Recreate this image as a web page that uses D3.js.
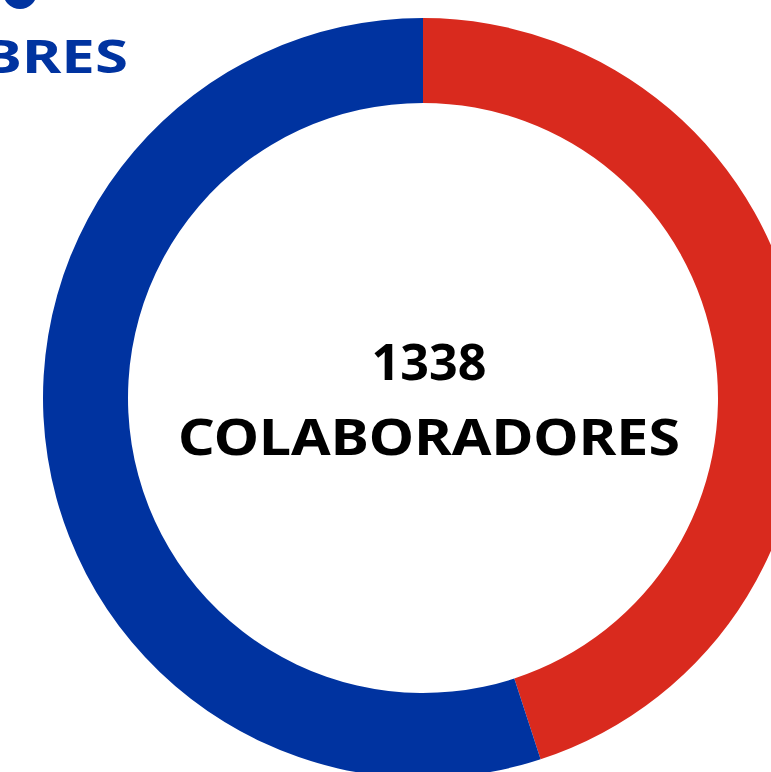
<!DOCTYPE html>
<html>
<head>
<meta charset="utf-8">
<script src="https://cdn.jsdelivr.net/npm/d3@7"></script>
<style>
	body { margin: 0; background: #fff; overflow: hidden; }
	text { font-family: 'Noto Sans', 'DejaVu Sans', sans-serif; font-weight: 700; }
</style>
</head>
<body>
<svg id="chart" width="771" height="772"></svg>
<script>
// colaboradores por género
var categories = ['MUJERES', 'HOMBRES'];
var values = [602, 736];
var colors = ['#d92a1e', '#0033a0'];
var totalLabel = ['1338', 'COLABORADORES'];

var svg = d3.select('#chart');
var cx = 423, cy = 398;
var outerR = 380, innerR = 295;

var pie = d3.pie().sort(null).value(function(d) { return d.v; });
var arc = d3.arc().innerRadius(innerR).outerRadius(outerR);

var data = categories.map(function(c, i) { return {name: c, v: values[i], color: colors[i]}; });

var g = svg.append('g').attr('transform', 'translate(' + cx + ',' + cy + ')');
g.selectAll('path')
	.data(pie(data))
	.enter().append('path')
	.attr('d', arc)
	.style('fill', function(d) { return d.data.color; });

// centre label
var widths = [115, 502];
var baselines = [380, 455];
totalLabel.forEach(function(t, i) {
	svg.append('text')
		.text(t)
		.attr('x', cx + 6)
		.attr('y', baselines[i])
		.attr('text-anchor', 'middle')
		.attr('textLength', widths[i])
		.attr('lengthAdjust', 'spacingAndGlyphs')
		.style('font-size', '51px')
		.style('fill', '#000');
});

// legend (cut off at top-left, as in the original)
var legend = svg.append('g');
legend.append('circle')
	.attr('cx', 20).attr('cy', -8).attr('r', 17)
	.style('fill', colors[1]);
legend.append('text')
	.text(categories[1])
	.attr('x', -168)
	.attr('y', 73)
	.attr('textLength', 296)
	.attr('lengthAdjust', 'spacingAndGlyphs')
	.style('font-size', '46px')
	.style('fill', colors[1]);
</script>
</body>
</html>
